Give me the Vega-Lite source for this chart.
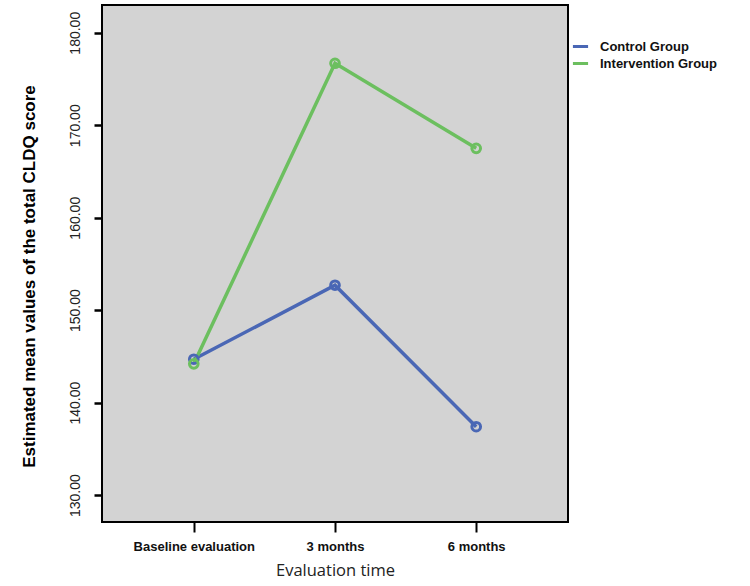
{
  "$schema": "https://vega.github.io/schema/vega-lite/v6.json",
  "autosize": "none",
  "width": 466,
  "height": 517,
  "padding": {"left": 102, "top": 5, "right": 182, "bottom": 64},
  "background": "white",
  "config": {
    "view": {"fill": "#d3d3d3", "stroke": "black", "strokeWidth": 2},
    "font": "Liberation Sans"
  },
  "data": {
    "values": [
      {"time": "Baseline evaluation", "group": "Control Group", "value": 144.7},
      {"time": "3 months", "group": "Control Group", "value": 152.7},
      {"time": "6 months", "group": "Control Group", "value": 137.4},
      {"time": "Baseline evaluation", "group": "Intervention Group", "value": 144.2},
      {"time": "3 months", "group": "Intervention Group", "value": 176.7},
      {"time": "6 months", "group": "Intervention Group", "value": 167.5}
    ]
  },
  "encoding": {
    "x": {
      "field": "time", "type": "ordinal",
      "sort": ["Baseline evaluation", "3 months", "6 months"],
      "scale": {"type": "point", "padding": 0.65},
      "axis": {
        "title": "Evaluation time", "titleFont": "Open Sans", "titleFontSize": 16.5, "titleFontWeight": "normal",
        "titleColor": "#222", "titlePadding": 9,
        "labelAngle": 0, "labelFontWeight": "bold", "labelFontSize": 13, "labelColor": "#111",
        "labelPadding": 8, "tickSize": 10, "tickWidth": 2, "tickColor": "black",
        "domain": false, "grid": false
      }
    },
    "y": {
      "field": "value", "type": "quantitative",
      "scale": {"domain": [127.1, 183.0], "nice": false, "zero": false},
      "axis": {
        "title": "Estimated mean values of the total CLDQ score",
        "titleFontSize": 17, "titleFontWeight": "bold", "titleColor": "black", "titlePadding": 30,
        "titleY": 271,
        "values": [130, 140, 150, 160, 170, 180], "format": ".2f",
        "labelAngle": 270, "labelAlign": "center", "labelBaseline": "bottom",
        "labelFontSize": 14, "labelColor": "#222", "labelPadding": 12,
        "tickSize": 8, "tickWidth": 2.5, "tickColor": "black",
        "domain": false, "grid": false
      }
    },
    "color": {
      "field": "group", "type": "nominal",
      "scale": {"domain": ["Control Group", "Intervention Group"], "range": ["#4a67b5", "#6cbf5f"]},
      "legend": {
        "title": null, "orient": "none", "legendX": 469, "legendY": 32,
        "symbolType": "stroke", "symbolSize": 230, "symbolStrokeWidth": 3,
        "labelFontWeight": "bold", "labelFontSize": 13, "labelColor": "#111", "rowPadding": -2,
        "labelOffset": 10
      }
    }
  },
  "layer": [
    {"mark": {"type": "line", "strokeWidth": 3.5}},
    {"mark": {"type": "point", "filled": false, "strokeWidth": 3, "size": 75, "opacity": 1}}
  ]
}
